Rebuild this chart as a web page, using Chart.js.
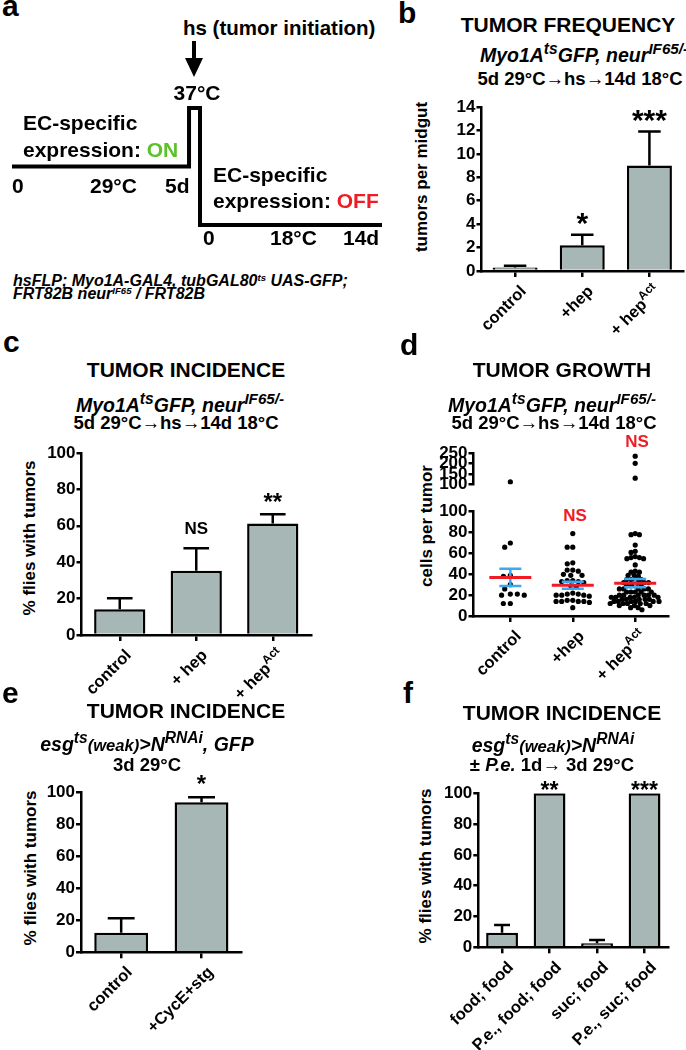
<!DOCTYPE html>
<html><head><meta charset="utf-8">
<script src="https://cdn.jsdelivr.net/npm/chart.js@4.4.1/dist/chart.umd.min.js"></script>
<style>
body{margin:0;background:#fff;}
#root{position:relative;width:686px;height:1050px;overflow:hidden;background:#fff;font-family:"Liberation Sans",Arial,sans-serif;font-weight:bold;color:#000;}
canvas{position:absolute;}
.t{position:absolute;white-space:nowrap;line-height:1;}
sup{font-size:.72em;vertical-align:0;position:relative;top:-.55em;line-height:0;}
</style></head><body><div id="root"></div>
<script>
// ---------- DATA ----------
// panel a: temperature schedule (schematic time units, temperature level)
const scheduleTime = [0, 5, 5, 5.31, 5.31, 10.45];
const scheduleTemp = ['29°C', '29°C', '37°C', '37°C', '18°C', '18°C'];
const tempLevels = ['37°C', '29°C', '18°C'];

// panel b: tumor frequency
const freqCategories = ['control', '+hep', '+ hep<sup>Act</sup>'];
const freqMeans = [0.3, 2.2, 9.0];
const freqErrTop = [0.45, 3.1, 11.9];
const freqSig = ['', '*', '***'];
const freqTicks = [0, 2, 4, 6, 8, 10, 12, 14];

// panel c: tumor incidence
const incCategories = ['control', '+ hep', '+ hep<sup>Act</sup>'];
const incMeans = [14.1, 35.3, 61.2];
const incErrTop = [20.2, 47.6, 66.4];
const incSig = ['', 'NS', '**'];
const pctTicks = [0, 20, 40, 60, 80, 100];

// panel d: tumor growth (cells per tumor)
const growthCategories = ['control', '+hep', '+ hep<sup>Act</sup>'];
const growthControl = [113, 70, 66, 39, 38, 30, 26, 21, 20, 20, 21, 12, 12];
const growthHep = [79, 66, 66, 51, 50, 44, 43, 44, 39, 39, 40, 34, 33, 33, 32, 34, 29, 28,
  22, 21, 20, 20, 19, 20, 21, 15, 14, 14, 13, 14, 15, 14, 8];
const growthHepAct = [236, 202, 131, 79, 78, 78, 68, 62, 61, 57, 56, 56, 55, 55, 49, 43, 42, 42, 39, 39, 38,
  35, 35, 35, 35, 32, 32, 32, 32, 29, 29, 29, 29, 26, 26, 26, 26, 26,
  23, 23, 23, 23, 23, 20, 20, 20, 20, 20, 20, 18, 18, 18, 18, 18,
  16, 16, 16, 16, 16, 14, 14, 14, 14, 14, 14, 12, 12, 12, 12, 12,
  10, 10, 10, 8, 8, 6];
const growthMean = [37, 29.5, 31.5];
const growthSem = [8.3, 3.3, 4.0];
const growthLowTicks = [0, 20, 40, 60, 80, 100];
const growthHighTicks = [100, 150, 200, 250];

// panel e: CycE + stg
const cyceCategories = ['control', '+CycE+stg'];
const cyceMeans = [12.3, 94.0];
const cyceErrTop = [21.3, 97.1];
const cyceSig = ['', '*'];

// panel f: P.e. infection
const peCategories = ['food; food', 'P.e., food; food', 'suc; food', 'P.e., suc; food'];
const peMeans = [9.5, 100, 2.6, 100];
const peErrTop = [14.5, 100, 4.7, 100];
const peSig = ['', '**', '', '***'];

// ---------- STYLE / HELPERS ----------
const BAR = '#a7b7b5', RED = '#ee1c24', BLUE = '#3aa9f2', GREEN = '#5cc22c';
const FONT = '"Liberation Sans", Arial, sans-serif';
const root = document.getElementById('root');
const strip = s => s.replace(/<[^>]+>/g, '');

function T(html, x, base, size, o = {}) {
  const d = document.createElement('div');
  d.className = 't'; d.innerHTML = html;
  d.style.fontSize = size + 'px';
  d.style.top = (base - 0.8465 * size) + 'px';
  d.style.left = x + 'px';
  if (o.center) d.style.transform = 'translateX(-50%)';
  if (o.italic) d.style.fontStyle = 'italic';
  if (o.color) d.style.color = o.color;
  root.appendChild(d);
  return d;
}
function V(html, cx, cy, size) {
  const d = document.createElement('div');
  d.className = 't'; d.innerHTML = html;
  d.style.fontSize = size + 'px';
  d.style.left = cx + 'px'; d.style.top = cy + 'px';
  d.style.transform = 'translate(-50%,-50%) rotate(-90deg)';
  root.appendChild(d);
}
function XL(html, px, py, size) {
  const d = document.createElement('div');
  d.className = 't'; d.innerHTML = html;
  d.style.fontSize = size + 'px';
  d.style.left = px + 'px'; d.style.top = py + 'px';
  d.style.transformOrigin = '100% 50%';
  d.style.transform = 'translate(-100%,-50%) rotate(-45deg)';
  root.appendChild(d);
}
function mkCanvas(l, t, w, h) {
  const c = document.createElement('canvas');
  c.width = w; c.height = h;
  c.style.left = l + 'px'; c.style.top = t + 'px';
  c.style.width = w + 'px'; c.style.height = h + 'px';
  root.appendChild(c);
  return c;
}
function yLin(min, max, ticks, width) {
  return {
    type: 'linear', min, max,
    afterBuildTicks: s => { s.ticks = ticks.map(v => ({ value: v })); },
    afterFit: s => { s.width = width; },
    border: { color: '#000', width: 2.5 },
    grid: { drawOnChartArea: false, drawTicks: true, tickLength: 5, color: '#000', lineWidth: 2.5 },
    ticks: { autoSkip: false, color: '#000', padding: 1, font: { family: FONT, size: 17, weight: 'bold' } }
  };
}
function xCat(height) {
  return {
    type: 'category', offset: true,
    afterFit: s => { s.height = height; },
    border: { color: '#000', width: 2.5 },
    grid: { offset: false, drawOnChartArea: false, drawTicks: true, tickLength: 6, color: '#000', lineWidth: 2.5 },
    ticks: { display: false }
  };
}

const errPlugin = {
  id: 'errbars',
  afterDatasetsDraw(chart, args, o) {
    if (!o || !o.top) return;
    const ctx = chart.ctx, meta = chart.getDatasetMeta(0), y = chart.scales.y;
    ctx.save();
    ctx.strokeStyle = '#000'; ctx.lineWidth = 2.5; ctx.lineCap = 'butt';
    meta.data.forEach((bar, i) => {
      const top = y.getPixelForValue(o.top[i]);
      if (top < bar.y - 0.5) {
        const half = bar.width * 0.25;
        ctx.beginPath();
        ctx.moveTo(bar.x, bar.y); ctx.lineTo(bar.x, top);
        ctx.moveTo(bar.x - half, top); ctx.lineTo(bar.x + half, top);
        ctx.stroke();
      }
      const s = o.sig[i];
      if (s) {
        const star = s.indexOf('*') >= 0;
        const size = star ? o.starSize : 17;
        ctx.fillStyle = '#000';
        ctx.font = 'bold ' + size + 'px ' + FONT;
        ctx.textAlign = 'center'; ctx.textBaseline = 'alphabetic';
        ctx.fillText(s, bar.x, top - o.gap + (star ? 0.42 * size : 0));
      }
    });
    ctx.restore();
  }
};

function barChart(b, cats, means, errTop, sig, ticks, ymax, starSize, gap) {
  const cv = mkCanvas(b.l, b.t, b.w, b.h);
  const ch = new Chart(cv, {
    type: 'bar',
    data: { labels: cats.map(strip), datasets: [{ data: means, backgroundColor: BAR, borderColor: '#000', borderWidth: 2.5, barPercentage: 0.67, categoryPercentage: 1 }] },
    options: {
      responsive: false, animation: false, devicePixelRatio: 1,
      layout: { padding: { top: b.top - b.t, right: b.l + b.w - b.right, bottom: 0, left: 0 } },
      plugins: { legend: { display: false }, tooltip: { enabled: false }, errbars: { top: errTop, sig, starSize, gap } },
      scales: { x: xCat(b.t + b.h - b.bottom), y: yLin(0, ymax, ticks, b.axisX - b.l) }
    },
    plugins: [errPlugin]
  });
  cats.forEach((c, i) => XL(c, b.l + ch.scales.x.getPixelForValue(i) + 8, b.t + ch.chartArea.bottom + 17, 16.5));
  return ch;
}

// ---------- PANEL A ----------
{
  const cv = mkCanvas(0, 96, 400, 145);
  new Chart(cv, {
    type: 'line',
    data: { datasets: [{ data: scheduleTime.map((t, i) => ({ x: t, y: scheduleTemp[i] })), borderColor: '#000', borderWidth: 4, pointRadius: 0, tension: 0, borderJoinStyle: 'miter', clip: false }] },
    options: {
      responsive: false, animation: false, devicePixelRatio: 1,
      layout: { padding: { top: 12, left: 12, right: 18, bottom: 16 } },
      plugins: { legend: { display: false }, tooltip: { enabled: false } },
      scales: { x: { type: 'linear', min: 0, max: 10.45, display: false }, y: { type: 'category', labels: tempLevels, offset: false, display: false } }
    }
  });
  const shaft = document.createElement('div');
  Object.assign(shaft.style, { position: 'absolute', left: '192px', top: '41px', width: '4px', height: '20px', background: '#000' });
  root.appendChild(shaft);
  const head = document.createElement('div');
  Object.assign(head.style, { position: 'absolute', left: '185px', top: '58px', width: '0', height: '0', borderLeft: '9px solid transparent', borderRight: '9px solid transparent', borderTop: '19px solid #000' });
  root.appendChild(head);
  T('a', 2, 16, 30);
  T('hs (tumor initiation)', 183, 35, 20.5);
  T('37°C', 197, 100, 21, { center: true });
  T('EC-specific', 23, 130, 21);
  T('expression: <span style="color:' + GREEN + '">ON</span>', 23, 157, 21);
  T('0', 12, 193, 21); T('29°C', 90, 193, 21); T('5d', 165, 193, 21);
  T('EC-specific', 213, 182, 21);
  T('expression: <span style="color:' + RED + '">OFF</span>', 213, 208, 21);
  T('0', 203, 245, 21); T('18°C', 270, 245, 21); T('14d', 343, 245, 21);
  T('hsFLP; Myo1A-GAL4, tubGAL80<sup style="font-size:.6em">ts</sup> UAS-GFP;', 13, 287, 16, { italic: true });
  T('FRT82B neur<sup style="font-size:.6em">IF65</sup> / FRT82B', 13, 300, 16, { italic: true });
}

const MYO = 'Myo1A<sup style="font-size:.8em">ts</sup>GFP, neur<sup style="font-size:.78em">IF65/-</sup>';
const TIMING = '5d 29°C→hs→14d 18°C';
const SUB1 = 19.5, SUB2 = 18.5;

// ---------- PANEL B ----------
T('b', 398, 23, 30);
T('TUMOR FREQUENCY', 568, 32, 21, { center: true });
T(MYO, 584, 63, SUB1, { center: true, italic: true });
T(TIMING, 580, 86, SUB2, { center: true });
V('tumors per midgut', 421, 177, 17);
barChart({ l: 420, t: 90, w: 266, h: 250, axisX: 481.5, top: 107, bottom: 271, right: 683 },
  freqCategories, freqMeans, freqErrTop, freqSig, freqTicks, 14, 30, 14);

// ---------- PANEL C ----------
T('c', 3, 352, 30);
T('TUMOR INCIDENCE', 186, 377, 21, { center: true });
T(MYO, 180, 413, SUB1, { center: true, italic: true });
T(TIMING, 176, 430, SUB2, { center: true });
V('% flies with tumors', 29, 538, 17);
barChart({ l: 20, t: 440, w: 300, h: 220, axisX: 81.5, top: 453, bottom: 635, right: 311 },
  incCategories, incMeans, incErrTop, incSig, pctTicks, 100, 24, 14);

// ---------- PANEL D ----------
T('d', 400, 355, 30);
T('TUMOR GROWTH', 562, 377, 21, { center: true });
T(MYO, 552, 413, SUB1, { center: true, italic: true });
T(TIMING, 554, 430, SUB2, { center: true });
V('cells per tumor', 426, 526, 17);
T('NS', 637, 447, 17, { center: true, color: RED });
T('NS', 575, 521, 17, { center: true, color: RED });

const meanPlugin = {
  id: 'meansem',
  afterDatasetsDraw(chart, a, o) {
    if (!o || !o.mean) return;
    const ctx = chart.ctx, xs = chart.scales.x, ys = chart.scales.y;
    ctx.save();
    o.mean.forEach((m, i) => {
      const cx = xs.getPixelForValue(i);
      const yt = ys.getPixelForValue(m + o.sem[i]), yb = ys.getPixelForValue(m - o.sem[i]), ym = ys.getPixelForValue(m);
      ctx.strokeStyle = BLUE; ctx.lineWidth = 2.5;
      ctx.beginPath();
      ctx.moveTo(cx, yt); ctx.lineTo(cx, yb);
      ctx.moveTo(cx - 11, yt); ctx.lineTo(cx + 11, yt);
      ctx.moveTo(cx - 11, yb); ctx.lineTo(cx + 11, yb);
      ctx.stroke();
      ctx.strokeStyle = RED; ctx.lineWidth = 3;
      ctx.beginPath(); ctx.moveTo(cx - 21, ym); ctx.lineTo(cx + 21, ym); ctx.stroke();
    });
    ctx.restore();
  }
};

const growthGroups = [growthControl, growthHep, growthHepAct];
function dotChart(b, lo, hi, ticks, showX, plugins, pluginOpts) {
  const cv = mkCanvas(b.l, b.t, b.w, b.h);
  const xScale = {
    type: 'linear', min: -0.59, max: 2.53, display: showX,
    afterBuildTicks: s => { s.ticks = [0, 1, 2].map(v => ({ value: v })); },
    afterFit: s => { s.height = b.t + b.h - b.bottom; },
    border: { color: '#000', width: 2.5 },
    grid: { drawOnChartArea: false, drawTicks: true, tickLength: 6, color: '#000', lineWidth: 2.5 },
    ticks: { display: false }
  };
  return new Chart(cv, {
    type: 'scatter',
    data: {
      datasets: growthGroups.map((g, gi) => ({
        data: g.filter(v => v > lo && v <= hi).map(v => ({ x: gi, y: v })),
        pointRadius: 2.6, pointBackgroundColor: '#000', pointBorderWidth: 0, showLine: false
      }))
    },
    options: {
      responsive: false, animation: false, devicePixelRatio: 1,
      layout: { padding: { top: b.top - b.t, right: b.l + b.w - b.right, bottom: showX ? 0 : b.t + b.h - b.bottom, left: 0 } },
      plugins: Object.assign({ legend: { display: false }, tooltip: { enabled: false } }, pluginOpts),
      scales: { x: xScale, y: yLin(lo < 0 ? 0 : lo, hi, ticks, b.axisX - b.l) }
    },
    plugins
  });
}
// beeswarm placement (layout only): spreads points sideways so dots do not overlap
function swarm(chart, diams) {
  const xs = chart.scales.x, ys = chart.scales.y;
  chart.data.datasets.forEach((ds, gi) => {
    const diam = diams[gi];
    const cx = xs.getPixelForValue(gi);
    const placed = [];
    const pts = ds.data.map(p => ({ v: p.y, py: ys.getPixelForValue(p.y) })).sort((a, b) => a.py - b.py);
    pts.forEach(p => {
      const forb = [];
      placed.forEach(q => {
        const dy = Math.abs(q.py - p.py);
        if (dy < diam) { const w = Math.sqrt(diam * diam - dy * dy); forb.push([q.px - w, q.px + w]); }
      });
      const cands = [cx];
      forb.forEach(f => cands.push(f[0], f[1]));
      cands.sort((a, b) => Math.abs(a - cx) - Math.abs(b - cx));
      p.px = cands.find(c => forb.every(f => c <= f[0] + 1e-6 || c >= f[1] - 1e-6));
      placed.push(p);
    });
    ds.data = placed.map(p => ({ x: xs.getValueForPixel(p.px), y: p.v }));
  });
  chart.update('none');
}
const dLow = dotChart({ l: 420, t: 495, w: 266, h: 150, axisX: 473.5, top: 511.7, bottom: 616, right: 668.3 },
  -1, 100, growthLowTicks, true, [meanPlugin], { meansem: { mean: growthMean, sem: growthSem } });
const dHigh = dotChart({ l: 420, t: 440, w: 266, h: 72, axisX: 473.5, top: 453.3, bottom: 498.3, right: 668.3 },
  100, 250, growthHighTicks, false, [], {});
swarm(dLow, [7, 5.6, 4.3]);
swarm(dHigh, [7, 5.6, 4.3]);
growthCategories.forEach((c, i) => XL(c, 420 + dLow.scales.x.getPixelForValue(i) + 8, 495 + dLow.chartArea.bottom + 17, 16.5));

// ---------- PANEL E ----------
T('e', 2, 703, 30);
T('TUMOR INCIDENCE', 186, 718, 21, { center: true });
T('esg<sup style="font-size:.8em">ts</sup><span style="font-size:.85em">(weak)</span>&gt;N<sup style="font-size:.8em">RNAi</sup>, GFP', 147, 752, SUB1, { center: true, italic: true });
T('3d 29°C', 147, 772, SUB2, { center: true });
V('% flies with tumors', 30, 868, 17);
barChart({ l: 20, t: 765, w: 240, h: 215, axisX: 81, top: 792.7, bottom: 952.3, right: 241.7 },
  cyceCategories, cyceMeans, cyceErrTop, cyceSig, pctTicks, 100, 24, 15);

// ---------- PANEL F ----------
T('f', 403, 703, 30);
T('TUMOR INCIDENCE', 562, 720, 21, { center: true });
T('esg<sup style="font-size:.8em">ts</sup><span style="font-size:.85em">(weak)</span>&gt;N<sup style="font-size:.8em">RNAi</sup>', 553, 753, SUB1, { center: true, italic: true });
T('± <i>P.e.</i> 1d→ 3d 29°C', 552, 772, SUB2, { center: true });
V('% flies with tumors', 425, 866, 17);
barChart({ l: 420, t: 775, w: 266, h: 205, axisX: 478.3, top: 793.3, bottom: 947.3, right: 668.3 },
  peCategories, peMeans, peErrTop, peSig, pctTicks, 100, 23, 5);
</script></body></html>
